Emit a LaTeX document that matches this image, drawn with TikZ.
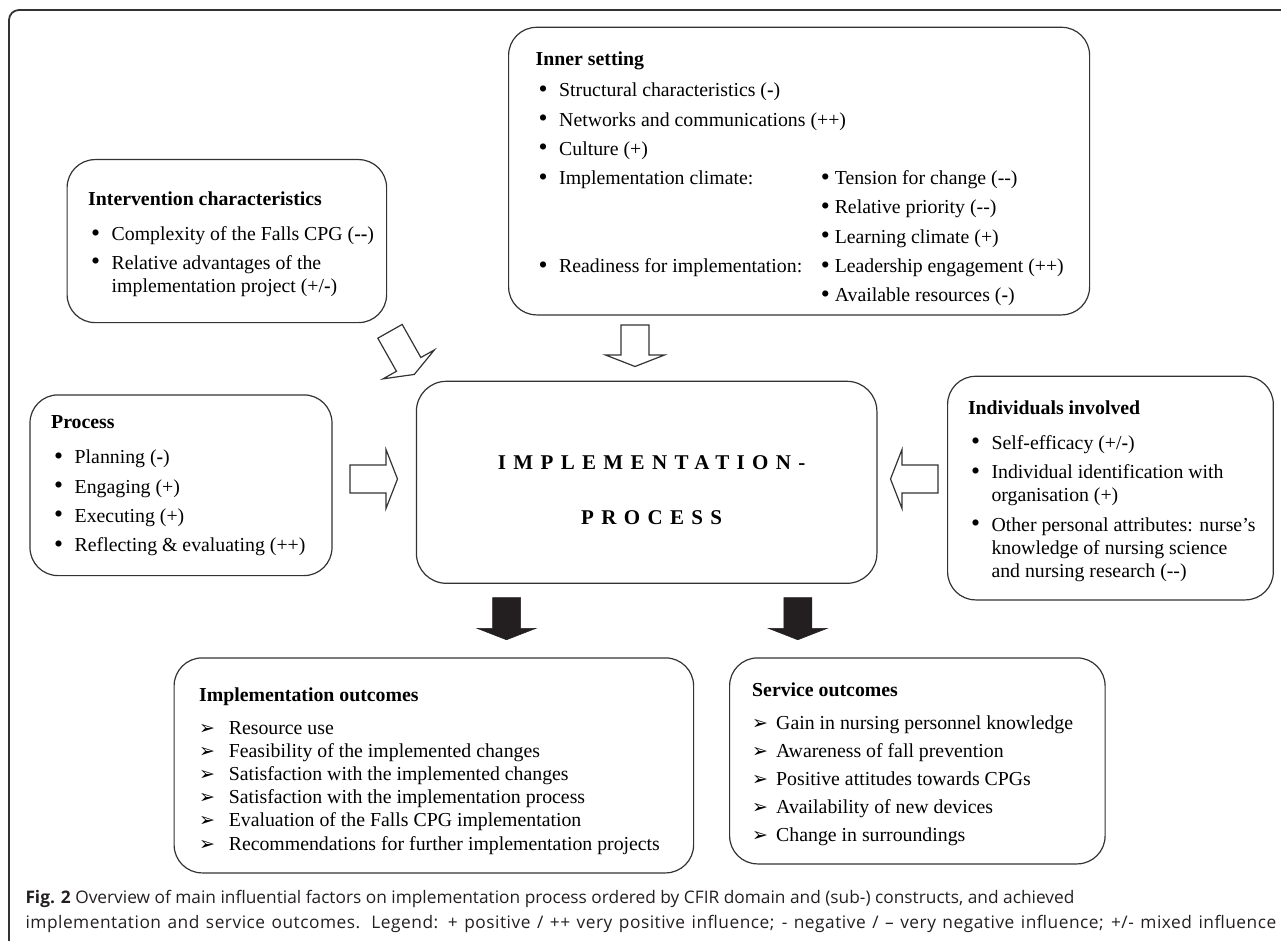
\documentclass[tikz,border=0pt]{standalone}
\usepackage{fontspec}
\setmainfont{Liberation Serif}
\newfontfamily\captionfont{Open Sans}
\newfontfamily\dingfont{DejaVu Sans}
\usetikzlibrary{calc,positioning}
\definecolor{color_line}{HTML}{333333}
\definecolor{color_ink}{HTML}{231F20}

\newcommand{\bigdot}{\raisebox{-0.6pt}{\scalebox{1.3}{\textbullet}}}
\newcommand{\bul}{\hspace*{3pt}\makebox[20.5pt][l]{\bigdot}}
\newcommand{\outmark}[1]{\makebox[#1][l]{\dingfont\fontsize{19}{19}\selectfont ➢}}
\newcommand{\bigarrow}[4][hollow arrow]{%
	\draw[#1, shift={(#2)}, rotate=#3]
		(0,-14) -- (#4,-14) -- (#4,-29.5) -- ++(11.5,29.5) -- (#4,29.5) -- (#4,14) -- (0,14) -- cycle;}

\begin{document}
\begin{tikzpicture}[x=1pt,y=-1pt,
		panel/.style={draw=color_line, line width=1.2pt, rounded corners=28pt, anchor=north west, inner sep=0pt},
		paneltext/.style={anchor=north west, align=left, inner sep=0pt, font=\fontsize{19.8}{23.2}\selectfont},
		hollow arrow/.style={draw=color_line, line width=1.2pt, fill=white, line join=miter},
		solid arrow/.style={draw=color_ink, fill=color_ink, line width=0.5pt, line join=miter}]
	\useasboundingbox (0,0) rectangle (1281,941);
	% Frame
	\draw[color_line, line width=1.8pt, rounded corners=10pt] (9,960) -- (9,10) -- (1300,10);

	% Boxes
	\node[panel, minimum width=319.5pt, minimum height=163pt] (inter) at (66.5,159) {};
	\node[panel, minimum width=581pt, minimum height=287.6pt] (inner) at (508,26.7) {};
	\node[panel, minimum width=302pt, minimum height=180.7pt] (proc) at (29.4,394.3) {};
	\node[panel, rounded corners=30pt, minimum width=460.5pt, minimum height=202pt] (impl) at (415.8,380.7) {};
	\node[panel, minimum width=325.7pt, minimum height=223.6pt] (indiv) at (947,375.7) {};
	\node[panel, minimum width=519.5pt, minimum height=215pt] (implout) at (173.5,657.3) {};
	\node[panel, minimum width=375.5pt, minimum height=206pt] (servout) at (729,657.3) {};

	% Box texts
	\node[paneltext] (intertext) at ($(inter.north west)+(21.5,30.3)$) {\strut\textbf{Intervention characteristics}\\[11.8pt]
		\bul Complexity of the Falls CPG (\textbf{-{}-})\\[5.1pt]
		\bul Relative advantages of the\\
		\hspace*{23.5pt}implementation project (+/\textbf{-})};
	\node[paneltext] (innertext) at ($(inner.north west)+(27.5,22.6)$) {\strut\textbf{Inner setting}\\[7.8pt]
		\bul Structural characteristics (\textbf{-})\\[6.1pt]
		\bul Networks and communications (++)\\[6.1pt]
		\bul Culture (+)\\[6.1pt]
		\bul\makebox[261.6pt][l]{Implementation climate:}\bigdot\ Tension for change (-{}-)\\[6.1pt]
		\hspace*{285.1pt}\bigdot\ Relative priority (-{}-)\\[6.1pt]
		\hspace*{285.1pt}\bigdot\ Learning climate (+)\\[6.1pt]
		\bul\makebox[261.6pt][l]{Readiness for implementation:}\bigdot\ Leadership engagement (++)\\[6.1pt]
		\hspace*{285.1pt}\bigdot\ Available resources (\textbf{-})};
	\node[paneltext] (proctext) at ($(proc.north west)+(21.6,18)$) {\strut\textbf{Process}\\[11.8pt]
		\bul Planning (\textbf{-})\\[6.1pt]
		\bul Engaging (+)\\[6.1pt]
		\bul Executing (+)\\[6.1pt]
		\bul Reflecting \& evaluating (++)};
	\node[paneltext] (indivtext) at ($(indiv.north west)+(20.8,22.6)$) {\strut\textbf{Individuals involved}\\[11.1pt]
		\bul Self-efficacy (+/\textbf{-})\\[6.3pt]
		\bul Individual identification with\\
		\hspace*{23.5pt}organisation (+)\\[6.3pt]
		\bul Other personal attributes: nurse’s\\
		\hspace*{23.5pt}knowledge of nursing science\\
		\hspace*{23.5pt}and nursing research (-{}-)};
	\node[paneltext] (implouttext) at ($(implout.north west)+(25.5,28)$) {\strut\textbf{Implementation outcomes}\\[9.1pt]
		\outmark{29.6pt}Resource use\\
		\outmark{29.6pt}Feasibility of the implemented changes\\
		\outmark{29.6pt}Satisfaction with the implemented changes\\
		\outmark{29.6pt}Satisfaction with the implementation process\\
		\outmark{29.6pt}Evaluation of the Falls CPG implementation\\
		\outmark{29.6pt}Recommendations for further implementation projects};
	\node[paneltext] (servouttext) at ($(servout.north west)+(23,23)$) {\strut\textbf{Service outcomes}\\[9.1pt]
		\outmark{24pt}Gain in nursing personnel knowledge\\[4.9pt]
		\outmark{24pt}Awareness of fall prevention\\[4.9pt]
		\outmark{24pt}Positive attitudes towards CPGs\\[4.9pt]
		\outmark{24pt}Availability of new devices\\[4.9pt]
		\outmark{24pt}Change in surroundings};
	\node[align=center, inner sep=0pt, font=\fontsize{21}{23.2}\selectfont\bfseries\addfontfeatures{LetterSpace=35}]
		(impltext) at ($(impl.center)+(5,7.5)$) {IMPLEMENTATION-\\[31.8pt]PROCESS};

	% Arrows
	\coordinate (interarrow) at (390,331.3);
	\coordinate (innerarrow) at (635,325);
	\coordinate (procarrow) at (350,479);
	\coordinate (indivarrow) at (938,479);
	\coordinate (imploutarrow) at (506.5,597.7);
	\coordinate (servoutarrow) at (797.8,597.7);
	\bigarrow{interarrow}{-60.6}{38}
	\bigarrow{innerarrow}{-90}{30}
	\bigarrow{procarrow}{0}{36}
	\bigarrow{indivarrow}{180}{36}
	\bigarrow[solid arrow]{imploutarrow}{-90}{30.6}
	\bigarrow[solid arrow]{servoutarrow}{-90}{30.6}

	% Caption
	\node[anchor=north west, align=left, inner sep=0pt, text=color_ink, font=\captionfont\fontsize{17.3}{25.7}\selectfont]
		(caption) at (25.3,885) {\strut\textbf{Fig. 2} Overview of main influential factors on implementation process ordered by CFIR domain and (sub-) constructs, and achieved\\
		\makebox[1250.7pt][s]{\addfontfeatures{LetterSpace=3}implementation and service outcomes. Legend: + positive / ++ very positive influence; - negative / – very negative influence; +/- mixed influence}};
\end{tikzpicture}
\end{document}
